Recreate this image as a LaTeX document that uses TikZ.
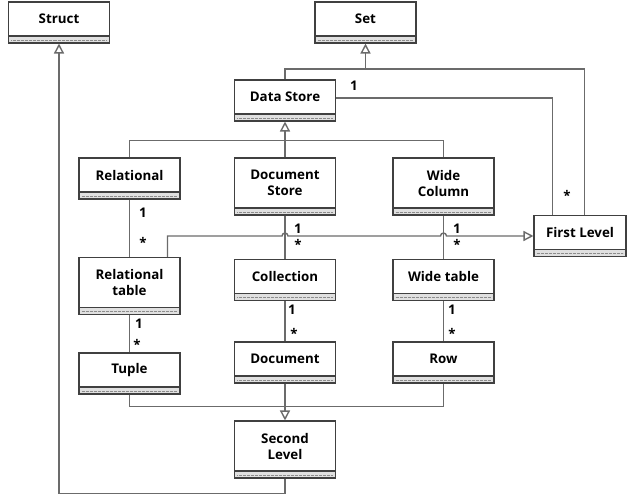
\documentclass[tikz,border=0pt]{standalone}
\usepackage{fontspec}
\setmainfont{Open Sans}
\usetikzlibrary{arrows.meta,calc}
\begin{document}
\begin{tikzpicture}[x=0.75pt,y=-0.75pt,
  cls/.style={draw=black!75,line width=0.8pt,fill=white,inner sep=0pt,minimum width=75.75pt,
    path picture={
      \fill[black!12] (path picture bounding box.south west) rectangle ([yshift=5.25pt]path picture bounding box.south east);
      \draw[black!75,line width=0.8pt] ([yshift=5.25pt]path picture bounding box.south west) -- ([yshift=5.25pt]path picture bounding box.south east);
      \draw[black!45,line width=0.4pt,dash pattern=on 0.6pt off 0.4pt] ([xshift=2pt,yshift=2.4pt]path picture bounding box.south west) -- ([xshift=-2pt,yshift=2.4pt]path picture bounding box.south east);
    }},
  h41/.style={minimum height=30.75pt},
  h57/.style={minimum height=42.75pt},
  lbl/.style={font=\fontsize{10}{12}\selectfont\bfseries,align=center,inner sep=0pt,text=black},
  conn/.style={draw=black!58,line width=1.05pt},
  gen/.style={conn,-{Triangle[open,length=7.5pt,width=7.5pt,fill=white]}},
  mult/.style={font=\fontsize{10}{11}\selectfont\bfseries,inner sep=0pt,text=black}
]
\useasboundingbox (0,0) rectangle (628,498);

% classes
\node[cls,h41,label={[lbl,yshift=2.6pt]center:Struct}] (struct) at (59,22.5) {};
\node[cls,h41,label={[lbl,yshift=2.6pt]center:Set}] (set) at (365.5,22.5) {};
\node[cls,h41,label={[lbl,yshift=2.6pt]center:Data Store}] (ds) at (285,100.5) {};
\node[cls,h41,label={[lbl,yshift=2.6pt]center:Relational}] (rel) at (129.5,178.5) {};
\node[cls,h57,label={[lbl,yshift=2.6pt]center:Document\\Store}] (dst) at (285,186.5) {};
\node[cls,h57,label={[lbl,yshift=2.6pt]center:Wide\\Column}] (wc) at (443.5,186.5) {};
\node[cls,h57,label={[lbl,yshift=2.6pt]center:Relational\\table}] (rt) at (129.5,286) {};
\node[cls,h41,label={[lbl,yshift=2.6pt]center:Collection}] (coll) at (285,280) {};
\node[cls,h41,label={[lbl,yshift=2.6pt]center:Wide table}] (wt) at (443.5,280) {};
\node[cls,h41,minimum width=69pt,label={[lbl,yshift=2.6pt]center:First Level}] (fl) at (580,236) {};
\node[cls,h41,label={[lbl,yshift=2.6pt]center:Tuple}] (tuple) at (129.5,373.5) {};
\node[cls,h41,label={[lbl,yshift=2.6pt]center:Document}] (doc) at (285,362.5) {};
\node[cls,h41,label={[lbl,yshift=2.6pt]center:Row}] (row) at (443.5,362.5) {};
\node[cls,h57,label={[lbl,yshift=2.6pt]center:Second\\Level}] (sl) at (285,449.5) {};

% Second Level -> Struct
\draw[gen] (sl.south) -- ($(sl.south)+(0,15)$) -| (struct.south);

% Data Store, First Level -> Set
\coordinate (jset) at ($(set.south)+(0,26)$);
\draw[conn] (ds.north) |- ($(fl.north west)+(51,-146)$) -- ($(fl.north west)+(51,0)$);
\draw[gen] (jset) -- (set.south);

% Data Store -- First Level association
\draw[conn] ($(ds.east)+(0,-2.5)$) -| ($(fl.north west)+(19,0)$);
\node[mult] (m1) at (354,86) {1};
\node[mult] (m2) at (567,195) {*};

% children -> Data Store
\coordinate (jds) at ($(ds.south)+(0,19)$);
\draw[conn] (rel.north) |- (wc.north |- jds) -- (wc.north);
\draw[gen] (dst.north) -- (ds.south);

% vertical associations
\draw[conn] (rel.south) -- (rel.south |- rt.north);
\node[mult] (m3) at (143,213) {1};
\node[mult] (m4) at (143,242) {*};
\draw[conn] (dst.south) -- (coll.north);
\node[mult] (m5) at (298,229) {1};
\node[mult] (m6) at (298,244) {*};
\draw[conn] (wc.south) -- (wt.north);
\node[mult] (m7) at (457,229) {1};
\node[mult] (m8) at (457,244) {*};
\draw[conn] (rt.south) -- (tuple.north);
\node[mult] (m9) at (139,324) {1};
\node[mult] (m10) at (137,344) {*};
\draw[conn] (coll.south) -- (doc.north);
\node[mult] (m11) at (292,310) {1};
\node[mult] (m12) at (294,333) {*};
\draw[conn] (wt.south) -- (row.north);
\node[mult] (m13) at (452,310) {1};
\node[mult] (m14) at (452,333) {*};

% children -> First Level (with hops)
\coordinate (rtj) at ($(rt.north east)+(-13,0)$);
\draw[gen] (rtj) |- ($(dst.south |- fl.west)+(-3,0)$)
  arc[start angle=180,end angle=0,radius=2.25pt]
  -- ($(wc.south |- fl.west)+(-3,0)$)
  arc[start angle=180,end angle=0,radius=2.25pt]
  -- (fl.west);
\draw[conn] ($(coll.north east)+(-17,0)$) -- ($(coll.north east)+(-17,0)$ |- fl.west);
\draw[conn] ($(wt.north east)+(-11,0)$) -- ($(wt.north east)+(-11,0)$ |- fl.west);

% Tuple, Document, Row -> Second Level
\coordinate (jsl) at ($(sl.north)+(0,-14)$);
\draw[conn] (tuple.south) |- (row.south |- jsl) -- (row.south);
\draw[gen] (doc.south) -- (sl.north);
\end{tikzpicture}
\end{document}
